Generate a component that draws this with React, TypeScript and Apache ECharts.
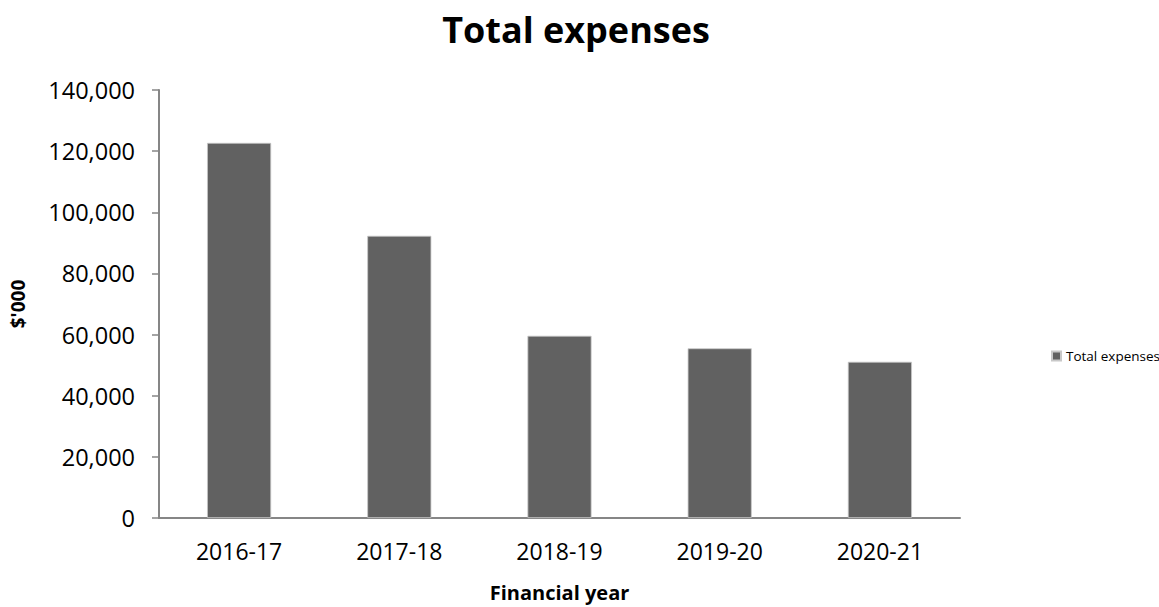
import React, { useEffect, useRef } from "react";
import * as echarts from "echarts";

const categories = ["2016-17", "2017-18", "2018-19", "2019-20", "2020-21"];
const totalExpenses = [122700, 92300, 59600, 55500, 51100];
const seriesName = "Total expenses";
const chartTitle = "Total expenses";
const xAxisTitle = "Financial year";
const yAxisTitle = "$'000";

export default function App() {
  const ref = useRef<HTMLDivElement>(null);
  useEffect(() => {
    if (!ref.current) return;
    const chart = echarts.init(ref.current, undefined, { renderer: "svg" });
    const font = "'Open Sans', sans-serif";
    chart.setOption({
      animation: false,
      backgroundColor: "#ffffff",
      textStyle: { fontFamily: font },
      title: {
        text: chartTitle,
        left: 571,
        textAlign: "center",
        top: 6,
        textStyle: { fontFamily: font, fontSize: 36, fontWeight: "bold", color: "#000" },
      },
      legend: {
        orient: "vertical",
        left: 1046,
        top: 344,
        itemWidth: 9,
        itemHeight: 9,
        itemGap: 4,
        icon: "rect",
        textStyle: { fontFamily: font, fontSize: 13.5, color: "#000" },
        data: [seriesName],
      },
      grid: { left: 157, right: 199, top: 90, bottom: 85.5, containLabel: false },
      xAxis: {
        type: "category",
        data: categories,
        name: xAxisTitle,
        nameLocation: "middle",
        nameGap: 64,
        nameTextStyle: { fontFamily: font, fontSize: 20, fontWeight: "bold", color: "#000" },
        axisLine: { lineStyle: { color: "#868686", width: 2 } },
        axisTick: { show: false },
        axisLabel: { fontFamily: font, fontSize: 23, color: "#000", margin: 21 },
      },
      yAxis: {
        type: "value",
        min: 0,
        max: 140000,
        interval: 20000,
        name: yAxisTitle,
        nameLocation: "middle",
        nameGap: 132,
        nameRotate: 90,
        nameTextStyle: { fontFamily: font, fontSize: 19, fontWeight: "bold", color: "#000" },
        axisLine: { show: true, lineStyle: { color: "#868686", width: 2 } },
        axisTick: { show: true, length: 7, lineStyle: { color: "#868686", width: 1.5 } },
        splitLine: { show: false },
        axisLabel: {
          fontFamily: font,
          fontSize: 23.5,
          color: "#000",
          margin: 24,
          formatter: (v: number) => v.toLocaleString("en-US"),
        },
      },
      series: [
        {
          name: seriesName,
          type: "bar",
          data: totalExpenses,
          barWidth: "40%",
          itemStyle: { color: "#616161", borderColor: "#c8c8c8", borderWidth: 0.8 },
        },
      ],
    });
    return () => chart.dispose();
  }, []);
  return <div ref={ref} style={{ width: 1159, height: 607, position: "absolute", left: 0, top: 0 }} />;
}
